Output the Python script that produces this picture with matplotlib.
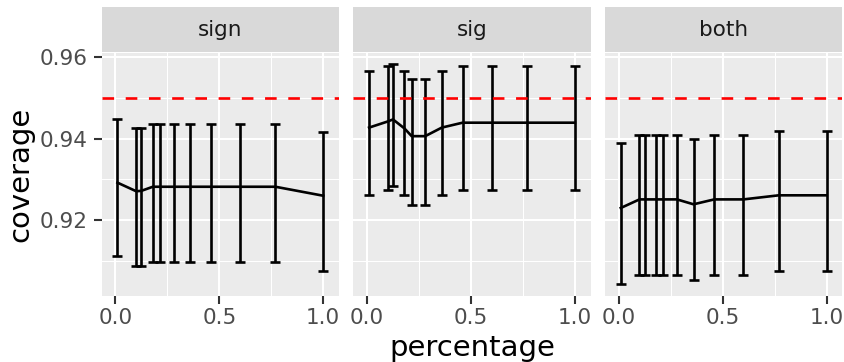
import matplotlib
matplotlib.use("Agg")
import matplotlib.pyplot as plt

# data
pct = [0.01, 0.1, 0.125, 0.18, 0.215, 0.28, 0.36, 0.46, 0.6, 0.77, 1.0]
facets = ["sign", "sig", "both"]

sign_mean = [0.9292, 0.9271, 0.9272, 0.9282, 0.9282, 0.9282, 0.9282, 0.9282, 0.9282, 0.9282, 0.9260]
sign_low = [0.9112, 0.9088, 0.9088, 0.9098, 0.9098, 0.9098, 0.9098, 0.9098, 0.9098, 0.9098, 0.9075]
sign_high = [0.9447, 0.9427, 0.9427, 0.9437, 0.9437, 0.9437, 0.9437, 0.9437, 0.9437, 0.9437, 0.9416]

sig_mean = [0.9427, 0.9442, 0.9447, 0.9425, 0.9406, 0.9406, 0.9427, 0.9439, 0.9439, 0.9439, 0.9439]
sig_low = [0.9261, 0.9274, 0.9284, 0.9261, 0.9238, 0.9238, 0.9261, 0.9274, 0.9274, 0.9274, 0.9274]
sig_high = [0.9566, 0.9577, 0.9584, 0.9566, 0.9547, 0.9547, 0.9566, 0.9577, 0.9577, 0.9577, 0.9577]

both_mean = [0.9230, 0.9251, 0.9251, 0.9251, 0.9251, 0.9251, 0.9239, 0.9251, 0.9251, 0.9261, 0.9261]
both_low = [0.9043, 0.9065, 0.9065, 0.9065, 0.9065, 0.9065, 0.9053, 0.9065, 0.9065, 0.9076, 0.9076]
both_high = [0.9389, 0.9408, 0.9408, 0.9408, 0.9408, 0.9408, 0.9400, 0.9408, 0.9408, 0.9418, 0.9418]

target = 0.95

means = [sign_mean, sig_mean, both_mean]
lows = [sign_low, sig_low, both_low]
highs = [sign_high, sig_high, both_high]

W, H = 844, 362
fig = plt.figure(figsize=(W / 100, H / 100), dpi=100)
plt.rcParams["font.family"] = "DejaVu Sans"

lefts = [101.7, 353.3, 605.0]
pw = 237.3
top, bottom = 52.5, 295.7
strip_top = 7.3

for k in range(3):
    ax = fig.add_axes([lefts[k] / W, (H - bottom) / H, pw / W, (bottom - top) / H])
    ax.set_facecolor("#EBEBEB")
    for s in ax.spines.values():
        s.set_visible(False)
    ax.set_xlim(-0.066, 1.076)
    ax.set_ylim(0.9015, 0.9611)
    ax.set_xticks([0.0, 0.5, 1.0])
    ax.set_xticklabels(["0.0", "0.5", "1.0"])
    ax.set_xticks([0.25, 0.75], minor=True)
    ax.set_yticks([0.92, 0.94, 0.96])
    ax.set_yticks([0.91, 0.93, 0.95], minor=True)
    ax.grid(which="major", color="white", lw=1.5)
    ax.grid(which="minor", color="white", lw=0.75)
    ax.set_axisbelow(True)
    ax.tick_params(which="minor", length=0)
    ax.tick_params(which="major", length=5.5, width=1.5, color="#333333",
                   labelsize=15.5, labelcolor="#4D4D4D")
    ax.tick_params(axis="x", pad=3)
    ax.tick_params(axis="y", pad=4.5)
    if k == 0:
        ax.set_yticklabels(["0.92", "0.94", "0.96"])
    else:
        ax.tick_params(axis="y", length=0, labelleft=False)

    m = means[k]
    lo = [m[i] - lows[k][i] for i in range(len(m))]
    hi = [highs[k][i] - m[i] for i in range(len(m))]
    ax.errorbar(pct, m, yerr=[lo, hi], color="black", lw=1.9,
                elinewidth=1.9, capsize=3.9, capthick=1.9, zorder=3)
    ax.axhline(target, color="#FF0000", lw=1.9, linestyle=(0, (4.4, 4.4)), zorder=4)

    sax = fig.add_axes([lefts[k] / W, (H - 51.7) / H, pw / W, (51.7 - strip_top) / H])
    sax.set_facecolor("#D9D9D9")
    sax.set_xticks([])
    sax.set_yticks([])
    for s in sax.spines.values():
        s.set_visible(False)
    sax.text(0.5, 0.5, facets[k], ha="center", va="center", fontsize=15.5,
             color="#1A1A1A", transform=sax.transAxes)

fig.text(472 / W, (H - 348) / H, "percentage", ha="center", va="center", fontsize=21)
fig.text(20 / W, (H - 174) / H, "coverage", ha="center", va="center",
         rotation=90, fontsize=21)

fig.savefig("out.png", dpi=100)
